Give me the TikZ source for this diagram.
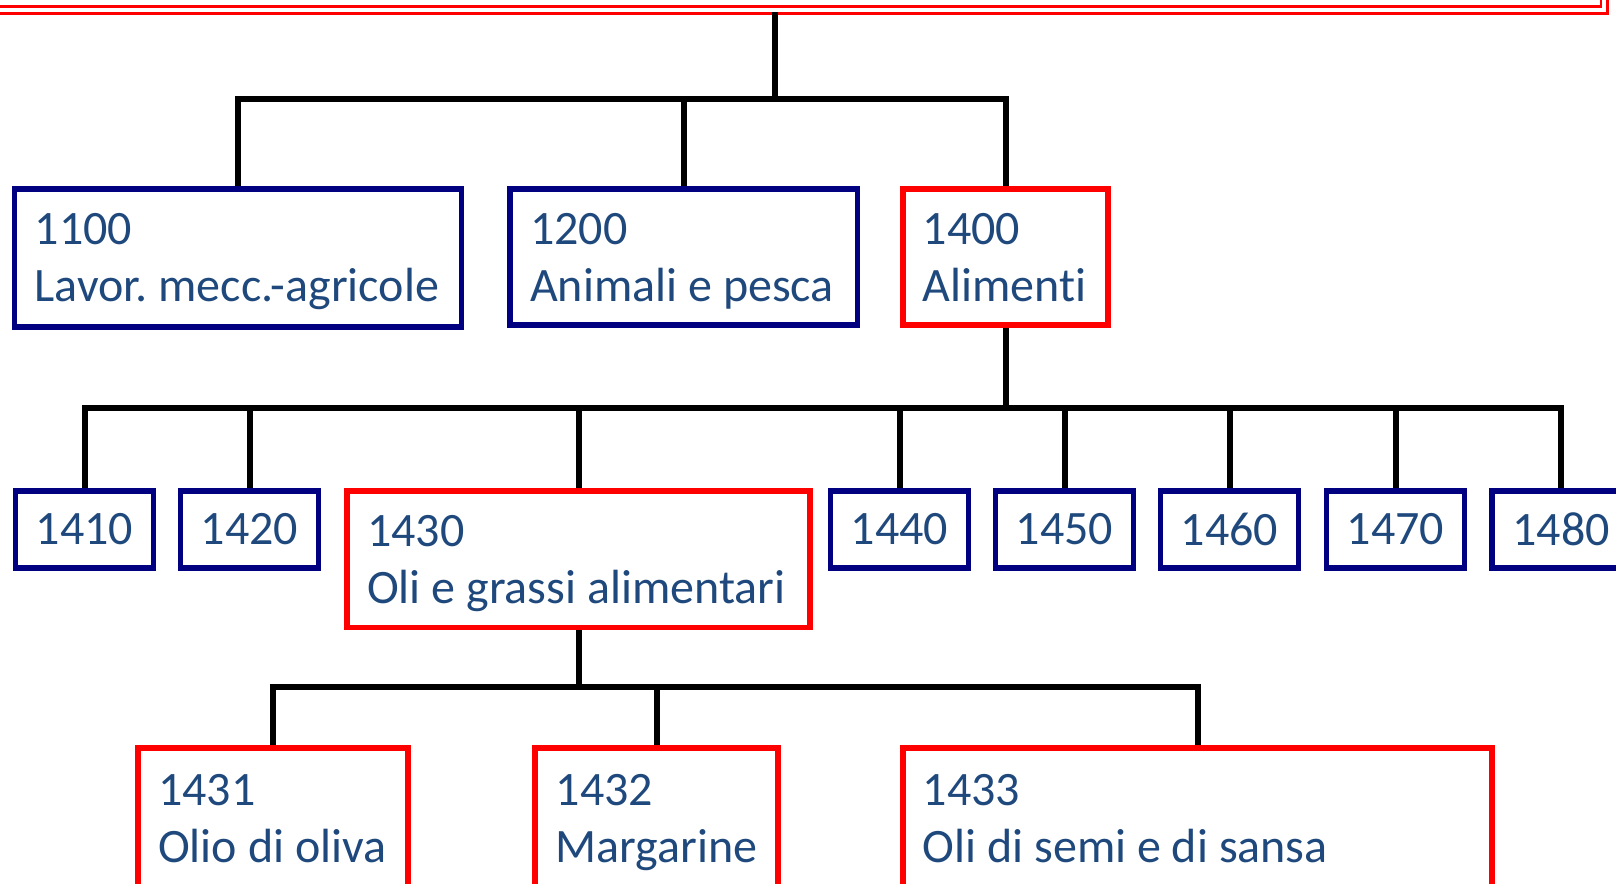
\documentclass[tikz,border=0pt]{standalone}
\usepackage{fontspec}
\setmainfont{Carlito}[Ligatures={NoCommon}]
\definecolor{txt}{HTML}{1F497D}
\definecolor{navy}{HTML}{000080}
\definecolor{boxred}{HTML}{FF0000}
\frenchspacing
\begin{document}
\begin{tikzpicture}[x=1pt,y=-1pt,
  conn/.style={line width=6pt,black},
  bluebox/.style={draw=navy,line width=5.5pt,rectangle,inner sep=0pt,text=txt,font=\fontsize{48}{57}\selectfont},
  redbox/.style={draw=boxred,line width=5.5pt,rectangle,inner sep=0pt,text=txt,font=\fontsize{48}{57}\selectfont},
  lbl/.style={anchor=base west,inner sep=0pt,text=txt,font=\fontsize{48}{57}\selectfont},
  frame/.style={draw=boxred}]
\useasboundingbox (0,0) rectangle (1616,883);
\clip (0,0) rectangle (1616,883);
% top frame (double red line)
\draw[frame,line width=2.2pt] (-10,6.5) -| (1601,-10);
\draw[frame,line width=3.4pt] (-10,13.3) -| (1607.5,-10);
\coordinate (top) at (775,12);
\coordinate (j1) at (775,99);
% level 1
\node[bluebox,minimum width=447pt,minimum height=138pt] (n1100) at (238,258) {};
\node[lbl] (t1100a) at (34.5,244) {1100};
\node[lbl] (t1100b) at (34.5,301) {Lavor. mecc.-agricole};
\node[bluebox,minimum width=347.5pt,minimum height=136pt] (n1200) at (683.75,257) {};
\node[lbl] (t1200a) at (530,244) {1200};
\node[lbl] (t1200b) at (530,301) {Animali e pesca};
\node[redbox,minimum width=205pt,minimum height=136pt] (n1400) at (1005.5,257) {};
\node[lbl] (t1400a) at (922.5,244) {1400};
\node[lbl] (t1400b) at (922.5,301) {Alimenti};
\draw[conn] (top) -- (j1);
\draw[conn] (n1100.north) |- (j1 -| n1400.north) -- (n1400.north);
\draw[conn] (n1200.north) -- (n1200.north |- j1);
% level 2
\coordinate (j2) at (1005.5,408);
\node[bluebox,minimum width=138pt,minimum height=77pt] (n1410) at (84.5,529.5) {1410};
\node[bluebox,minimum width=138pt,minimum height=77pt] (n1420) at (249.5,529.5) {1420};
\node[redbox,minimum width=463pt,minimum height=136.6pt] (n1430) at (578.5,559.3) {};
\node[lbl] (t1430a) at (367,546) {1430};
\node[lbl] (t1430b) at (367,603) {Oli e grassi alimentari};
\node[bluebox,minimum width=138pt,minimum height=77pt] (n1440) at (899.5,529.5) {1440};
\node[bluebox,minimum width=138pt,minimum height=77pt] (n1450) at (1064.5,529.5) {1450};
\node[bluebox,minimum width=138pt,minimum height=77pt] (n1460) at (1229.5,529.5) {1460};
\node[bluebox,minimum width=138pt,minimum height=77pt] (n1470) at (1395.5,529.5) {1470};
\node[bluebox,minimum width=138pt,minimum height=77pt] (n1480) at (1561,529.5) {1480};
\draw[conn] (n1400.south) -- (j2);
\draw[conn] (n1410.north) |- (j2 -| n1480.north) -- (n1480.north);
\foreach \n in {1420,1430,1440,1450,1460,1470}
  \draw[conn] (n\n.north) -- (n\n.north |- j2);
% level 3
\coordinate (j3) at (578.5,687);
\node[redbox,minimum width=270pt,minimum height=200pt] (n1431) at (273,848) {};
\node[lbl] (t1431a) at (158,805) {1431};
\node[lbl] (t1431b) at (158,862) {Olio di oliva};
\node[redbox,minimum width=243pt,minimum height=200pt] (n1432) at (656.5,848) {};
\node[lbl] (t1432a) at (555.5,805) {1432};
\node[lbl] (t1432b) at (555.5,862) {Margarine};
\node[redbox,minimum width=589pt,minimum height=200pt] (n1433) at (1197.5,848) {};
\node[lbl] (t1433a) at (922.5,805) {1433};
\node[lbl] (t1433b) at (922.5,862) {Oli di semi e di sansa};
\draw[conn] (n1430.south) -- (j3);
\draw[conn] (n1431.north) |- (j3 -| n1433.north) -- (n1433.north);
\draw[conn] (n1432.north) -- (n1432.north |- j3);
\end{tikzpicture}
\end{document}
